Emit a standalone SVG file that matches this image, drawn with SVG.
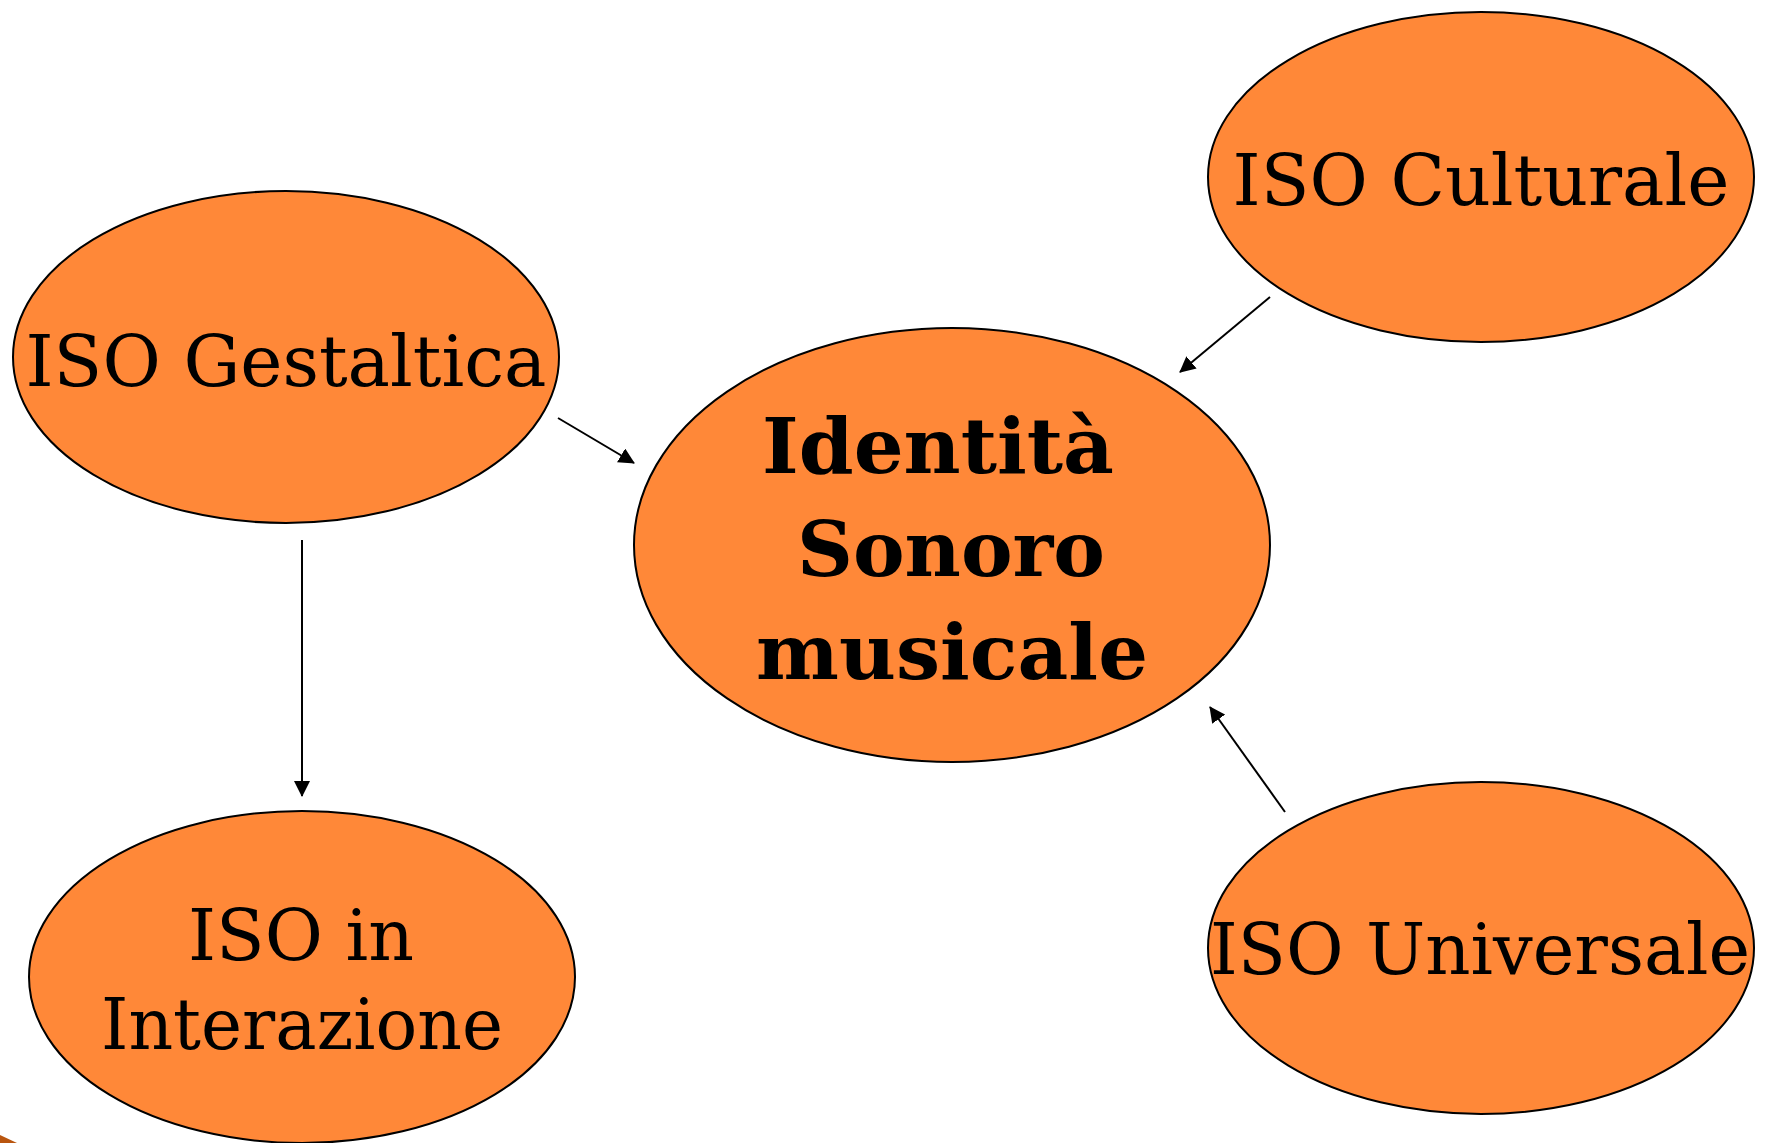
<svg xmlns="http://www.w3.org/2000/svg" width="1765" height="1143" viewBox="0 0 1765 1143">
<style>
.node ellipse { fill: #FF8838; stroke: #000; stroke-width: 2; }
.lbl { font-family: "DejaVu Serif", "Liberation Serif", serif; font-size: 71px; fill: #000; text-anchor: middle; }
.bold { font-family: "DejaVu Serif", "Liberation Serif", serif; font-size: 77px; font-weight: bold; fill: #000; text-anchor: middle; }
.conn line { stroke: #000; stroke-width: 2; fill: none; marker-end: url(#arrow); }
</style>
<defs>
<marker id="arrow" markerUnits="userSpaceOnUse" markerWidth="16" markerHeight="16" refX="15" refY="8" orient="auto">
<path d="M0,0 L16,8 L0,16 Z" fill="#000"/>
</marker>
</defs>
<rect width="1765" height="1143" fill="#fff"/>
<polygon points="0,1135 17,1143 0,1143" fill="#B9550F"/>
<g id="connectors" class="conn">
<line x1="558" y1="418" x2="634" y2="463"/>
<line x1="1270" y1="297" x2="1180" y2="372"/>
<line x1="1285" y1="812" x2="1210" y2="707"/>
<line x1="302" y1="540" x2="302" y2="796"/>
</g>
<g id="iso-culturale" class="node">
<ellipse cx="1481" cy="177" rx="273" ry="165"/>
<text class="lbl" x="1481" y="205" textLength="497" lengthAdjust="spacingAndGlyphs">ISO Culturale</text>
</g>
<g id="iso-gestaltica" class="node">
<ellipse cx="286" cy="357" rx="273" ry="166"/>
<text class="lbl" x="286" y="386" textLength="521" lengthAdjust="spacingAndGlyphs">ISO Gestaltica</text>
</g>
<g id="identita" class="node">
<ellipse cx="952" cy="545" rx="318" ry="217"/>
<text class="bold" x="938" y="473" textLength="352" lengthAdjust="spacingAndGlyphs">Identità</text>
<text class="bold" x="951" y="576" textLength="308" lengthAdjust="spacingAndGlyphs">Sonoro</text>
<text class="bold" x="952" y="679" textLength="392" lengthAdjust="spacingAndGlyphs">musicale</text>
</g>
<g id="iso-interazione" class="node">
<ellipse cx="302" cy="977" rx="273" ry="166"/>
<text class="lbl" x="301" y="960" textLength="226" lengthAdjust="spacingAndGlyphs">ISO in</text>
<text class="lbl" x="302" y="1049" textLength="402" lengthAdjust="spacingAndGlyphs">Interazione</text>
</g>
<g id="iso-universale" class="node">
<ellipse cx="1481" cy="948" rx="273" ry="166"/>
<text class="lbl" x="1480" y="974" textLength="540" lengthAdjust="spacingAndGlyphs">ISO Universale</text>
</g>
</svg>
